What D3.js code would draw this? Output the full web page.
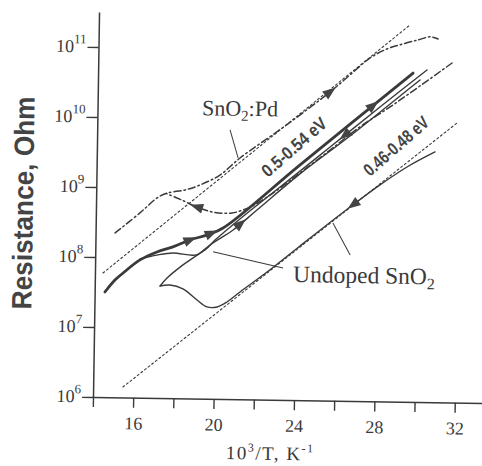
<!DOCTYPE html>
<html>
<head>
<meta charset="utf-8">
<script src="https://cdn.jsdelivr.net/npm/d3@7"></script>
<style>
  body { margin: 0; background: #fff; }
  svg { display: block; }
</style>
</head>
<body>
<div id="chart"></div>
<script>
// values: x = 10^3/T (K^-1), R in Ohm
const pdHeatX = [14.97, 16.19, 17.03, 17.52, 18.42, 19.16, 20.14, 21.13, 23.34, 25.55, 26.53, 27.52, 28.35, 29.15, 29.89, 30.49, 30.89];
const pdHeatR = [2.23e8, 4.36e8, 7.2e8, 8.5e8, 9.5e8, 1.13e9, 1.58e9, 2.8e9, 8.2e9, 2.57e10, 4.54e10, 8.04e10, 1.09e11, 1.30e11, 1.49e11, 1.66e11, 1.55e11];

const pdCoolX = [31.6, 30.02, 28.55, 27.07, 25.6, 24.12, 22.65, 21.66, 20.77, 19.78, 19.02, 18.27, 17.52];
const pdCoolR = [7.1e10, 3.28e10, 1.62e10, 8.3e9, 3.81e9, 1.76e9, 8.4e8, 5.6e8, 4.57e8, 4.68e8, 5.46e8, 6.8e8, 8.3e8];

const undHeatX = [14.51, 15.0, 15.4, 16.23, 17.07, 17.86, 18.7, 19.55, 20.34, 24.12, 29.67];
const undHeatR = [3.18e7, 4.74e7, 6.0e7, 9.3e7, 1.22e8, 1.45e8, 1.84e8, 2.19e8, 2.77e8, 2.3e9, 5.0e10];

const undCoolX = [30.36, 28.05, 25.6, 23.14, 21.17, 19.95, 19.46, 18.96, 17.87, 17.07, 16.23];
const undCoolR = [5.57e10, 1.61e10, 4.2e9, 1.1e9, 3.77e8, 1.86e8, 1.34e8, 1.12e8, 1.19e8, 1.1e8, 9.6e7];

const loopUpX = [17.25, 17.59, 18.23, 19.21, 19.85, 20.84, 22.01, 24.12, 26.58, 29.04, 30.02];
const loopUpR = [3.99e7, 5.2e7, 7.5e7, 1.2e8, 1.69e8, 2.61e8, 5.1e8, 1.71e9, 6.1e9, 2.34e10, 3.99e10];

const loopDownX = [30.82, 29.44, 28.11, 26.64, 24.18, 22.56, 21.23, 20.59, 20.1, 19.6, 19.1, 18.39, 17.74, 17.25];
const loopDownR = [3.78e9, 2.27e9, 1.24e9, 5.9e8, 1.6e8, 6.67e7, 3.41e7, 2.44e7, 2.06e7, 2.05e7, 2.56e7, 3.66e7, 4.14e7, 3.99e7];

// dotted straight fits
const fitPdX = [14.40, 29.48];
const fitPdR = [5.94e7, 2.43e11];
const fitUndX = [15.48, 31.95];
const fitUndR = [1.41e6, 1.02e10];

const xTicks = [14, 16, 18, 20, 22, 24, 26, 28, 30, 32];
const xTickLabels = [16, 20, 24, 28, 32];
const yTicks = [1e6, 1e7, 1e8, 1e9, 1e10, 1e11];

const width = 482;
const height = 466;
const tilt = 0.9; // the scan is slightly rotated
const ink = "#3a3a3a";
const serif = "'Liberation Serif', 'Times New Roman', serif";
const sans = "'Liberation Sans', Arial, sans-serif";

const x = d3.scaleLinear([14, 33.4], [93, 93 + 19.4 * 20.1]);
const y = d3.scaleLog([1e6, Math.pow(10, 11.5)], [397, 12]);

const svg = d3.select("#chart").append("svg")
    .attr("width", width)
    .attr("height", height)
    .attr("viewBox", [0, 0, width, height]);

svg.append("rect").attr("width", width).attr("height", height).attr("fill", "#fff");

const g = svg.append("g")
    .attr("transform", `rotate(${tilt},${x(14)},${y(1e6)})`);

// x axis
g.append("g")
    .attr("transform", `translate(0,${y(1e6)})`)
    .call(d3.axisBottom(x).tickValues(xTicks).tickSize(10).tickSizeOuter(0)
        .tickFormat(d => xTickLabels.includes(d) ? d : ""))
    .call(a => a.select(".domain").attr("stroke", ink).attr("stroke-width", 1.5))
    .call(a => a.selectAll(".tick line").attr("stroke", ink).attr("stroke-width", 1.4))
    .call(a => a.selectAll(".tick text")
        .attr("fill", ink).attr("y", 19)
        .attr("font-family", serif).attr("font-size", 18));

// y axis
g.append("g")
    .attr("transform", `translate(${x(14)},0)`)
    .call(d3.axisLeft(y).tickValues(yTicks).tickSize(11).tickSizeOuter(0).tickFormat(""))
    .call(a => a.select(".domain").attr("stroke", ink).attr("stroke-width", 1.5))
    .call(a => a.selectAll(".tick line").attr("stroke", ink).attr("stroke-width", 1.4))
    .call(a => a.selectAll(".tick").each(function(d) {
        const t = d3.select(this).append("text")
            .attr("x", -12).attr("y", 5)
            .attr("text-anchor", "end")
            .attr("fill", ink)
            .attr("font-family", serif)
            .attr("font-size", 18);
        t.append("tspan").text("10");
        t.append("tspan").attr("dy", -9).attr("font-size", 13).text(Math.round(Math.log10(d)));
    }));

// curves
const line = d3.line()
    .x(d => x(d[0]))
    .y(d => y(d[1]))
    .curve(d3.curveCatmullRom.alpha(0.5));

const curves = [
    { xs: fitPdX, rs: fitPdR, w: 1.1, dash: "2,2.6" },
    { xs: fitUndX, rs: fitUndR, w: 1.1, dash: "2,2.6" },
    { xs: pdHeatX, rs: pdHeatR, w: 1.5, dash: "7,3,1.6,3" },
    { xs: pdCoolX, rs: pdCoolR, w: 1.5, dash: "7,3,1.6,3" },
    { xs: loopDownX, rs: loopDownR, w: 1.4 },
    { xs: loopUpX, rs: loopUpR, w: 1.4 },
    { xs: undCoolX, rs: undCoolR, w: 1.4 },
    { xs: undHeatX, rs: undHeatR, w: 2.8 }
];

g.selectAll("path.curve")
    .data(curves)
    .join("path")
    .attr("class", "curve")
    .attr("fill", "none")
    .attr("stroke", ink)
    .attr("stroke-width", c => c.w)
    .attr("stroke-dasharray", c => c.dash || null)
    .attr("stroke-linecap", "round")
    .attr("d", c => line(c.xs.map((v, i) => [v, c.rs[i]])));

// direction arrows sitting on the curves
const arrows = [
    { xs: pdHeatX, rs: pdHeatR, at: 25.55, dir: 1 },
    { xs: pdCoolX, rs: pdCoolR, at: 19.02, dir: -1 },
    { xs: undHeatX, rs: undHeatR, at: 18.7, dir: 1 },
    { xs: undHeatX, rs: undHeatR, at: 19.75, dir: 1 },
    { xs: loopUpX, rs: loopUpR, at: 21.2, dir: 1 },
    { xs: undHeatX, rs: undHeatR, at: 27.7, dir: 1 },
    { xs: undCoolX, rs: undCoolR, at: 26.33, dir: -1 },
    { xs: loopDownX, rs: loopDownR, at: 26.8, dir: -1 }
];

function placeOn(a) {
    for (let i = 0; i < a.xs.length - 1; i++) {
        const x0 = a.xs[i], x1 = a.xs[i + 1];
        if ((a.at - x0) * (a.at - x1) <= 0) {
            const t = (a.at - x0) / (x1 - x0);
            const px0 = x(x0), px1 = x(x1), py0 = y(a.rs[i]), py1 = y(a.rs[i + 1]);
            let ang = Math.atan2(py1 - py0, px1 - px0) * 180 / Math.PI;
            if ((px1 - px0) * a.dir < 0) ang += 180;
            return { px: px0 + t * (px1 - px0), py: py0 + t * (py1 - py0), ang };
        }
    }
}

g.selectAll("path.arrow")
    .data(arrows.map(placeOn))
    .join("path")
    .attr("class", "arrow")
    .attr("d", "M7,0L-6,-5L-6,5Z")
    .attr("fill", "#444")
    .attr("transform", p => `translate(${p.px},${p.py}) rotate(${p.ang})`);

// annotations
const leader = (x0, r0, x1, r1) => g.append("line")
    .attr("x1", x(x0)).attr("y1", y(r0))
    .attr("x2", x(x1)).attr("y2", y(r1))
    .attr("stroke", ink).attr("stroke-width", 1);

leader(20.61, 7.0e9, 21.03, 2.8e9);
leader(19.86, 1.26e8, 23.35, 7.7e7);
leader(25.8, 3.47e8, 26.68, 1.22e8);

const pdLabel = g.append("text")
    .attr("x", x(19.2)).attr("y", y(1.12e10))
    .attr("fill", ink).attr("font-family", serif).attr("font-size", 22);
pdLabel.append("tspan").text("SnO");
pdLabel.append("tspan").attr("dy", 5).attr("font-size", 15).text("2");
pdLabel.append("tspan").attr("dy", -5).text(":Pd");

const undLabel = g.append("text")
    .attr("x", x(23.86)).attr("y", y(4.86e7))
    .attr("fill", ink).attr("font-family", serif).attr("font-size", 23.5);
undLabel.append("tspan").text("Undoped SnO");
undLabel.append("tspan").attr("dy", 5).attr("font-size", 16).text("2");

const evLabel = (xv, rv, txt) => g.append("text")
    .attr("transform", `translate(${x(xv)},${y(rv)}) rotate(-42)`)
    .attr("text-anchor", "middle")
    .attr("dy", "0.35em")
    .attr("fill", "#444")
    .attr("font-family", sans)
    .attr("font-weight", "bold")
    .attr("font-size", 18)
    .attr("textLength", 80)
    .attr("lengthAdjust", "spacingAndGlyphs")
    .text(txt);

evLabel(23.8, 4.14e9, "0.5-0.54 eV");
evLabel(28.88, 4.5e9, "0.46-0.48 eV");

// axis titles
g.append("text")
    .attr("transform", "translate(30,204) rotate(-90)")
    .attr("text-anchor", "middle")
    .attr("fill", "#444")
    .attr("font-family", sans)
    .attr("font-weight", "bold")
    .attr("font-size", 28)
    .attr("textLength", 213)
    .attr("lengthAdjust", "spacingAndGlyphs")
    .text("Resistance, Ohm");

const xTitle = g.append("text")
    .attr("x", 271).attr("y", 457)
    .attr("text-anchor", "middle")
    .attr("fill", ink)
    .attr("font-family", serif)
    .attr("font-size", 19)
    .attr("letter-spacing", 1.5);
xTitle.append("tspan").text("10");
xTitle.append("tspan").attr("dy", -8).attr("font-size", 12).text("3");
xTitle.append("tspan").attr("dy", 8).text("/T, K");
xTitle.append("tspan").attr("dy", -8).attr("font-size", 12).text("-1");
</script>
</body>
</html>
